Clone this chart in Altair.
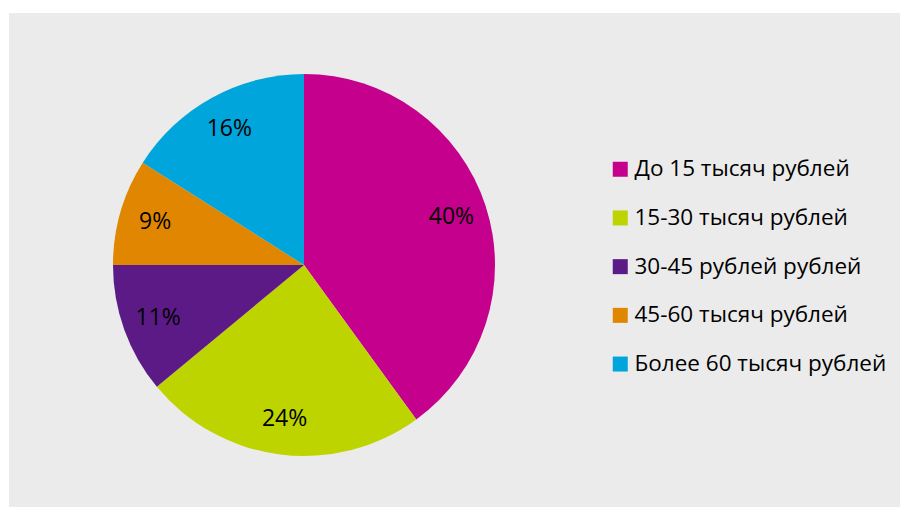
import altair as alt
import pandas as pd

categories = ["До 15 тысяч рублей", "15-30 тысяч рублей", "30-45 рублей рублей",
              "45-60 тысяч рублей", "Более 60 тысяч рублей"]
values = [40, 24, 11, 9, 16]
labels = ["40%", "24%", "11%", "9%", "16%"]
colors = ["#C4008C", "#BDD400", "#5B1A86", "#E08600", "#00A5DB"]

df = pd.DataFrame({"cat": categories, "val": values, "lab": labels,
                   "ord": list(range(len(categories)))})

cx, cy, R = 295, 252, 191

base = alt.Chart(df).encode(
    theta=alt.Theta("val:Q", stack=True),
    order=alt.Order("ord:Q"),
    x=alt.value(cx),
    y=alt.value(cy),
)

arcs = base.mark_arc(outerRadius=R).encode(
    color=alt.Color("cat:N", sort=categories,
                    scale=alt.Scale(domain=categories, range=colors),
                    legend=alt.Legend(title=None, orient="none", legendX=600, legendY=145,
                                      symbolType="square", symbolSize=225,
                                      symbolStrokeWidth=0, labelFont="Open Sans",
                                      labelFontSize=22.5, labelColor="#000000",
                                      rowPadding=25.7, labelOffset=3,
                                      labelLimit=400))
)

text = base.mark_text(radius=155, font="Open Sans", fontSize=23, color="#000000").encode(
    text="lab:N"
)

chart = (arcs + text).properties(
    width=891, height=494,
    padding={"left": 1, "top": 5, "right": 0, "bottom": 0},
    autosize=alt.AutoSizeParams(type="none"),
    background="#ffffff",
).configure_view(fill="#EBEBEB", stroke=None)

chart.save("out.html", embed_options={"renderer": "svg", "actions": False})
